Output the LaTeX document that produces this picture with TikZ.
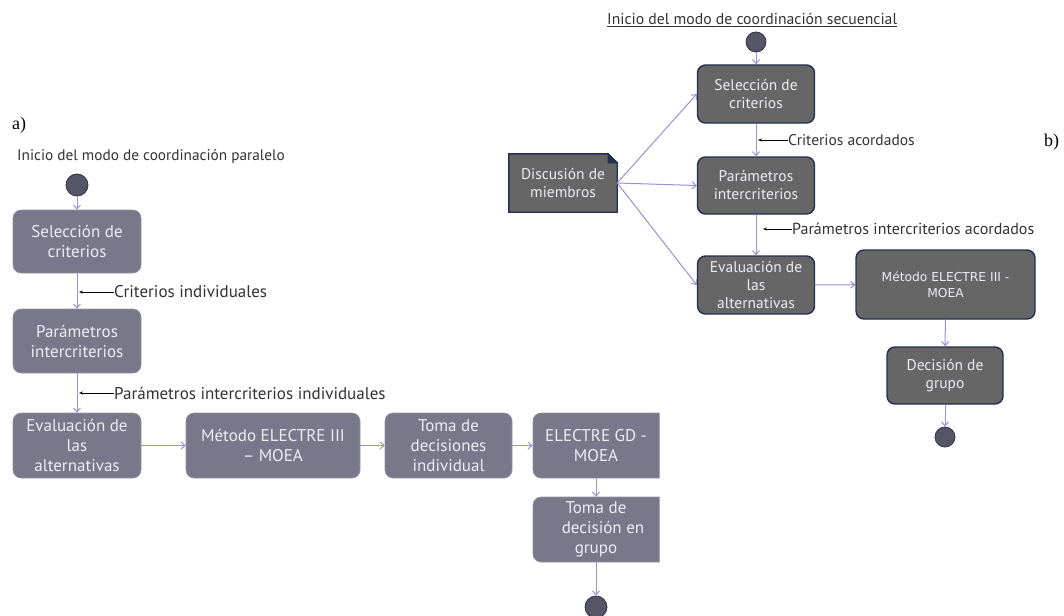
\documentclass[tikz,border=0pt]{standalone}
\usepackage{fontspec}
\setmainfont{PT Sans}
\newfontfamily\serifA{Liberation Serif}
\newfontfamily\dejavu{DejaVu Sans}
\usetikzlibrary{arrows.meta,backgrounds}
\definecolor{fillA}{HTML}{78788A}
\definecolor{txtA}{HTML}{ECECF2}
\definecolor{fillB}{HTML}{666666}
\definecolor{edgeB}{HTML}{243050}
\definecolor{conn}{HTML}{9A90D4}
\definecolor{labc}{HTML}{333333}
\definecolor{circA}{HTML}{555566}
\definecolor{circEdge}{HTML}{33334A}
\begin{document}
\begin{tikzpicture}[x=1pt,y=-1pt,
 boxa/.style={rectangle, rounded corners=8pt, fill=fillA, draw=fillA!80!white, line width=0.6pt, text=txtA, align=center, inner sep=0pt, font=\fontsize{17}{20}\selectfont},
 boxb/.style={rectangle, rounded corners=8pt, fill=fillB, draw=edgeB, line width=1.4pt, text=txtA, align=center, inner sep=0pt, font=\fontsize{15.5}{18}\selectfont},
 startnode/.style={circle, fill=circA, draw=circEdge, line width=0.8pt, minimum size=22pt, inner sep=0pt},
 flow/.style={draw=conn, line width=1pt, -{Straight Barb[length=4pt,width=7pt]}},
 labarrow/.style={draw=black, line width=0.6pt, {Stealth[length=4pt,width=3pt]}-},
 labtxt/.style={anchor=west, inner sep=0pt, text=labc, font=\fontsize{17}{20}\selectfont},
 titletxt/.style={inner sep=0pt, text=labc, font=\fontsize{15.3}{18}\selectfont},
 serlab/.style={inner sep=0pt, font=\serifA\fontsize{18}{20}\selectfont},
]
\useasboundingbox (0,0) rectangle (1064,615);
\begin{scope}[on background layer]
  \fill[white] (0,0) rectangle (1064,615);
\end{scope}

% ---------- a) ----------
\node[serlab, anchor=west] (la) at (12,125) {a)};
\node[titletxt, anchor=west] (ta) at (17,157) {Inicio del modo de coordinación paralelo};
\node[startnode] (sa) at (77,185) {};
\node[boxa, minimum width=128pt, minimum height=63pt] (sela) at (77,241.5) {Selección de\\criterios};
\node[boxa, minimum width=128pt, minimum height=64pt] (para) at (77,341) {Parámetros\\intercriterios};
\node[boxa, minimum width=128pt, minimum height=65pt] (eva) at (77,445.5) {Evaluación de\\las\\alternativas};
\node[boxa, minimum width=174pt, minimum height=65pt] (meta) at (273,445.5) {Método ELECTRE III\\– MOEA};
\node[boxa, minimum width=127pt, minimum height=65pt] (toma) at (448.5,445.5) {Toma de\\decisiones\\individual};
\begin{scope}
  \clip (0,0) rectangle (659.5,615);
  \node[boxa, minimum width=140pt, minimum height=65pt] (gd) at (603,445.5) {ELECTRE GD -\hspace*{14pt}\\MOEA\hspace*{14pt}};
  \node[boxa, minimum width=140pt, minimum height=65pt] (tg) at (603,529.5) {Toma de\hspace*{14pt}\\decisión en\hspace*{14pt}\\grupo\hspace*{14pt}};
\end{scope}
\node[startnode] (ea) at (596,607) {};

\draw[flow] (sa) -- (sela);
\draw[flow] (sela) -- (para);
\draw[flow] (para) -- (eva);
\draw[flow] (eva) -- (meta);
\draw[flow] (meta) -- (toma);
\draw[flow] (toma) -- (gd.west);
\draw[flow] ([xshift=-7pt]gd.south) -- ([xshift=-7pt]tg.north);
\draw[flow] ([xshift=-7pt]tg.south) -- (ea.north);

\node[labtxt] (l1) at (114,292) {Criterios individuales};
\coordinate (c1) at (79,292);
\draw[labarrow] (c1) -- (l1.west);
\node[labtxt] (l2) at (114,393) {Parámetros intercriterios individuales};
\coordinate (c2) at (79,393);
\draw[labarrow] (c2) -- (l2.west);

% ---------- b) ----------
\node[serlab, anchor=west] (lb) at (1044,142) {b)};
\node[titletxt, anchor=west, font=\fontsize{15.7}{18}\selectfont] (tb) at (607,20) {\underline{Inicio del modo de coordinación secuencial}};
\node[startnode, minimum size=20pt] (sb) at (756,42) {};
\node[boxb, minimum width=117pt, minimum height=58pt] (selb) at (756,94) {Selección de\\criterios};
\node[boxb, minimum width=117pt, minimum height=57pt] (parb) at (756,185.5) {Parámetros\\intercriterios};
\node[boxb, minimum width=117pt, minimum height=58pt] (evb) at (756,285) {Evaluación de\\las\\alternativas};
\node[boxb, minimum width=179pt, minimum height=69pt, font=\dejavu\fontsize{12.3}{16}\selectfont] (metb) at (945.5,284.5) {Método ELECTRE III -\\MOEA};
\node[boxb, minimum width=116pt, minimum height=57pt] (decb) at (945,375.5) {Decisión de\\grupo};
\node[startnode, minimum size=20pt] (eb) at (945,437) {};

\node[inner sep=0pt, minimum width=108pt, minimum height=58pt, align=center, text=txtA, font=\fontsize{15.5}{18}\selectfont] (disc) at (563,183) {Discusión de\\miembros};
\begin{scope}[on background layer]
  \filldraw[fill=fillB, draw=edgeB, line width=1.4pt] (disc.north west) -- ([xshift=-9pt]disc.north east) -- ([yshift=-9pt]disc.north east) -- (disc.south east) -- (disc.south west) -- cycle;
  \filldraw[fill=edgeB, draw=edgeB, line width=1pt] ([xshift=-9pt]disc.north east) -- ([yshift=-9pt]disc.north east) -- ([xshift=-9pt,yshift=-9pt]disc.north east) -- cycle;
\end{scope}

\draw[flow] (sb) -- (selb);
\draw[flow] (selb) -- (parb);
\draw[flow] (parb) -- (evb);
\draw[flow] (evb) -- (metb);
\draw[flow] (metb) -- (decb);
\draw[flow] (decb) -- (eb);
\draw[flow] (disc.east) -- (selb.west);
\draw[flow] (disc.east) -- (parb.west);
\draw[flow] (disc.east) -- (evb.west);

\node[labtxt, font=\fontsize{15.5}{18}\selectfont] (l3) at (788,140) {Criterios acordados};
\coordinate (c3) at (758,140);
\draw[labarrow] (c3) -- (l3.west);
\node[labtxt, font=\fontsize{16}{18}\selectfont] (l4) at (792,229) {Parámetros intercriterios acordados};
\coordinate (c4) at (763,229);
\draw[labarrow] (c4) -- (l4.west);
\end{tikzpicture}
\end{document}
